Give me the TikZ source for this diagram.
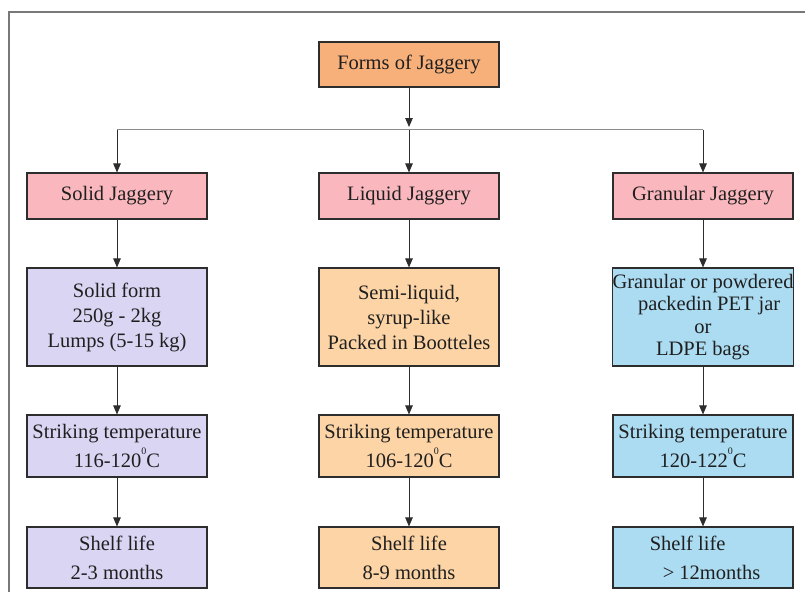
\documentclass[tikz,border=0pt]{standalone}
\usepackage{fontspec}
\setmainfont{Liberation Serif}
\usetikzlibrary{arrows.meta}
\definecolor{cforms}{RGB}{248,176,122}
\definecolor{cpink}{RGB}{250,184,190}
\definecolor{clav}{RGB}{218,213,243}
\definecolor{cpeach}{RGB}{252,212,166}
\definecolor{cblue}{RGB}{172,220,242}
\definecolor{cline}{RGB}{45,45,45}
\definecolor{cframe}{RGB}{120,120,120}
\newcommand{\degsup}{\raisebox{0.62em}{\fontsize{10}{10}\selectfont 0}}
\begin{document}
\begin{tikzpicture}[x=1pt,y=-1pt,
  box/.style={draw=cline,line width=1.1pt,minimum width=180pt,inner sep=0pt,align=center,
    text=black!88,font=\fontsize{20.5}{25}\selectfont},
  arr/.style={draw=cline,line width=0.9pt,-{Triangle[width=7.5pt,length=9pt]}},
  conn/.style={draw=black!45,line width=1.4pt}]
\useasboundingbox (0,0) rectangle (805,592);
\fill[white] (0,0) rectangle (805,592);
\draw[cframe,line width=1.5pt] (805,12) -- (9,12) -- (9,592);
% top
\node[box,fill=cforms,minimum height=45pt] (forms) at (409,64.5) {Forms of Jaggery};
% row 1
\node[box,fill=cpink,minimum height=46pt] (solid) at (117,196) {Solid Jaggery};
\node[box,fill=cpink,minimum height=46pt] (liquid) at (409,196) {Liquid Jaggery};
\node[box,fill=cpink,minimum height=46pt] (gran) at (703,196) {Granular Jaggery};
% row 2
\node[box,fill=clav,minimum height=98pt] (solidf) at (117,317) {Solid form\\250g - 2kg\\Lumps (5-15 kg)};
\node[box,fill=cpeach,minimum height=98pt] (liquidf) at (409,317) {Semi-liquid,\\syrup-like\\Packed in Bootteles};
\node[box,fill=cblue,minimum height=98pt,font=\fontsize{20.5}{22.5}\selectfont] (granf) at (703,317) {Granular or powdered\\\hspace*{0.6em}packedin PET jar\\or\\LDPE bags};
% row 3
\node[box,fill=clav,minimum height=62pt,font=\fontsize{20.5}{29}\selectfont] (solidt) at (117,446) {Striking temperature\\116-120\degsup C};
\node[box,fill=cpeach,minimum height=62pt,font=\fontsize{20.5}{29}\selectfont] (liquidt) at (409,446) {Striking temperature\\106-120\degsup C};
\node[box,fill=cblue,minimum height=62pt,font=\fontsize{20.5}{29}\selectfont] (grant) at (703,446) {Striking temperature\\120-122\degsup C};
% row 4
\node[box,fill=clav,minimum height=61pt,font=\fontsize{20.5}{29}\selectfont] (solids) at (117,557.5) {Shelf life\\2-3 months};
\node[box,fill=cpeach,minimum height=61pt,font=\fontsize{20.5}{29}\selectfont] (liquids) at (409,557.5) {Shelf life\\8-9 months};
\node[box,fill=cblue,minimum height=61pt,font=\fontsize{20.5}{29}\selectfont] (grans) at (703,557.5) {Shelf life\hspace*{1.5em}\\\,\,\,\,\,> 12months};
% distribution
\coordinate (jl) at (117,129.5);
\coordinate (jm) at (409,129.5);
\coordinate (jr) at (703,129.5);
\coordinate (tip) at (409,127);
\draw[conn] (jl) -- (jr);
\draw[arr] (forms.south) -- (tip);
\draw[arr] (jl) -- (solid.north);
\draw[arr] (jm) -- (liquid.north);
\draw[arr] (jr) -- (gran.north);
% columns
\draw[arr] (solid.south) -- (solidf.north);
\draw[arr] (solidf.south) -- (solidt.north);
\draw[arr] (solidt.south) -- (solids.north);
\draw[arr] (liquid.south) -- (liquidf.north);
\draw[arr] (liquidf.south) -- (liquidt.north);
\draw[arr] (liquidt.south) -- (liquids.north);
\draw[arr] (gran.south) -- (granf.north);
\draw[arr] (granf.south) -- (grant.north);
\draw[arr] (grant.south) -- (grans.north);
\end{tikzpicture}
\end{document}
